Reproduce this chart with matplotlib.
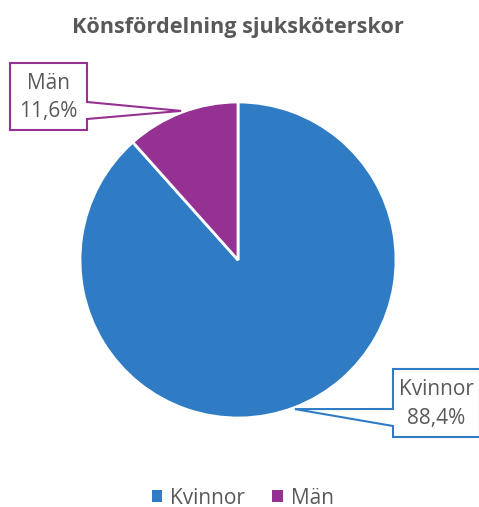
import numpy as np
import matplotlib

matplotlib.use("Agg")

import matplotlib.pyplot as plt
from matplotlib.patches import Polygon

# data
categories = ["Kvinnor", "Män"]
shares = [88.4, 11.6]
labels = ["Kvinnor\n88,4%", "Män\n11,6%"]
colors = ["#2F7CC5", "#943192"]

plt.rcParams["font.family"] = ["Open Sans", "DejaVu Sans"]
text_color = "#595959"

W, H, DPI = 479, 507, 100
fig = plt.figure(figsize=(W / DPI, H / DPI), dpi=DPI)
ax = fig.add_axes([0, 0, 1, 1])

# pie centre / radius in pixels (from top-left)
cx, cy, R = 238, 260, 158


def px(x, y):
    # pixel (from top-left) -> data coords
    return (x - cx) / R, (cy - y) / R


wedges, _ = ax.pie(
    shares,
    colors=colors,
    startangle=90,
    counterclock=False,
    radius=1.0,
    wedgeprops=dict(edgecolor="white", linewidth=2),
)
ax.set_xlim(-cx / R, (W - cx) / R)
ax.set_ylim(-(H - cy) / R, cy / R)
ax.set_aspect("auto")
ax.axis("off")

# callout boxes: (left, top, right, bottom) in px, pointer side
boxes = [
    dict(box=(393, 369, 480, 437), side="left", base=(409, 426)),
    dict(box=(10, 63, 87, 130), side="right", base=(102, 119)),
]

for w, lab, col, b in zip(wedges, labels, colors, boxes):
    mid = np.deg2rad((w.theta1 + w.theta2) / 2)
    tip = (1.01 * np.cos(mid), 1.01 * np.sin(mid))
    l, t, r, bt = b["box"]
    b0, b1 = b["base"]
    if b["side"] == "left":
        pts = [px(l, t), px(r, t), px(r, bt), px(l, bt), px(l, b1), tip, px(l, b0)]
    else:
        pts = [px(l, t), px(r, t), px(r, b0), tip, px(r, b1), px(r, bt), px(l, bt)]
    ax.add_patch(Polygon(pts, closed=True, facecolor="white", edgecolor=col,
                         linewidth=1.5, zorder=3))
    tx, ty = px((l + r) / 2, (t + bt) / 2 + 1)
    ax.text(tx, ty, lab, ha="center", va="center", fontsize=15,
            color=text_color, linespacing=1.45, zorder=4)

fig.text(0.497, 1 - 28 / H, "Könsfördelning sjuksköterskor", ha="center",
         va="center", fontsize=15.6, fontweight="bold", color=text_color)

leg = fig.legend(wedges, categories, loc="center", bbox_to_anchor=(0.507, 1 - 498 / H),
                 ncol=2, frameon=False, fontsize=15, handlelength=0.5,
                 handleheight=0.5, handletextpad=0.4, columnspacing=1.3,
                 labelcolor=text_color)
for h in leg.legend_handles:
    h.set_edgecolor("none")

fig.savefig("out.png", dpi=DPI)
plt.close(fig)
